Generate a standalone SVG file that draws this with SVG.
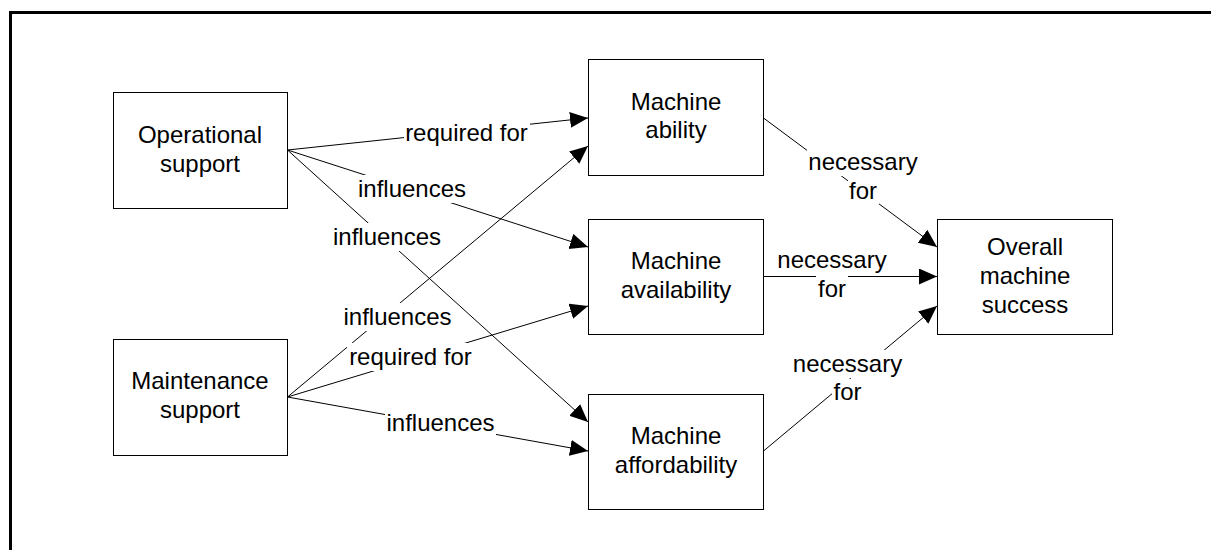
<svg xmlns="http://www.w3.org/2000/svg" width="1211" height="550" viewBox="0 0 1211 550">
  <style>
    .box { fill: #fff; stroke: #000; stroke-width: 1; }
    .txt { font-family: "Liberation Sans", Arial, sans-serif; font-size: 24px; fill: #000; text-anchor: middle; }
    .edge { fill: none; stroke: #000; stroke-width: 1; marker-end: url(#arrow); }
    .bg { fill: #fff; stroke: none; }
    .frame { fill: none; stroke: #000; stroke-width: 3; }
  </style>
  <defs>
    <marker id="arrow" markerUnits="userSpaceOnUse" markerWidth="19" markerHeight="17" refX="18" refY="8" orient="auto">
      <path d="M0,0 L18,8 L0,16 Z" fill="#000"/>
    </marker>
  </defs>

  <rect width="1211" height="550" fill="#fff"/>
  <!-- page frame (top and left edges) -->
  <path class="frame" d="M10.5,550 V12.5 H1211"/>

  <!-- connectors -->
  <g id="connectors">
    <line class="edge" x1="287.5" y1="150" x2="588" y2="118"/>
    <line class="edge" x1="287.5" y1="150" x2="588" y2="247"/>
    <line class="edge" x1="287.5" y1="150" x2="588" y2="422"/>
    <line class="edge" x1="287.5" y1="397" x2="588" y2="146"/>
    <line class="edge" x1="287.5" y1="397" x2="588" y2="306"/>
    <line class="edge" x1="287.5" y1="397" x2="588" y2="451"/>
    <line class="edge" x1="763.5" y1="118" x2="937" y2="247"/>
    <line class="edge" x1="763.5" y1="276.5" x2="937" y2="276.5"/>
    <line class="edge" x1="763.5" y1="451" x2="937" y2="306"/>

    <!-- edge labels -->
    <g id="lbl-op-ability">
      <rect class="bg" x="404" y="119" width="126" height="28"/>
      <text class="txt" x="466.5" y="141">required for</text>
    </g>
    <g id="lbl-op-avail">
      <rect class="bg" x="357" y="175" width="111" height="28"/>
      <text class="txt" x="412" y="197">influences</text>
    </g>
    <g id="lbl-op-afford">
      <rect class="bg" x="332" y="223" width="111" height="28"/>
      <text class="txt" x="387" y="245">influences</text>
    </g>
    <g id="lbl-mt-ability">
      <rect class="bg" x="342" y="303" width="111" height="28"/>
      <text class="txt" x="397.5" y="325">influences</text>
    </g>
    <g id="lbl-mt-avail">
      <rect class="bg" x="347" y="343" width="126" height="28"/>
      <text class="txt" x="410.5" y="365">required for</text>
    </g>
    <g id="lbl-mt-afford">
      <rect class="bg" x="385" y="409" width="111" height="28"/>
      <text class="txt" x="440.5" y="431">influences</text>
    </g>
    <g id="lbl-ability-overall">
      <rect class="bg" x="807" y="148" width="112" height="28"/>
      <rect class="bg" x="848" y="177" width="31" height="28"/>
      <text class="txt" x="863" y="170">necessary</text>
      <text class="txt" x="863" y="199">for</text>
    </g>
    <g id="lbl-avail-overall">
      <rect class="bg" x="776" y="246" width="112" height="28"/>
      <rect class="bg" x="816" y="275" width="32" height="28"/>
      <text class="txt" x="832" y="268">necessary</text>
      <text class="txt" x="832" y="297">for</text>
    </g>
    <g id="lbl-afford-overall">
      <rect class="bg" x="792" y="350" width="112" height="28"/>
      <rect class="bg" x="832" y="379" width="31" height="28"/>
      <text class="txt" x="847.5" y="372">necessary</text>
      <text class="txt" x="847.5" y="400">for</text>
    </g>
  </g>

  <!-- nodes -->
  <g id="operational-support">
    <rect class="box" x="113.5" y="92.5" width="174" height="116"/>
    <text class="txt" x="200" y="143">Operational</text>
    <text class="txt" x="200" y="172">support</text>
  </g>
  <g id="maintenance-support">
    <rect class="box" x="113.5" y="339.5" width="174" height="116"/>
    <text class="txt" x="200" y="389">Maintenance</text>
    <text class="txt" x="200" y="418">support</text>
  </g>
  <g id="machine-ability">
    <rect class="box" x="588.5" y="59.5" width="175" height="116"/>
    <text class="txt" x="676" y="110">Machine</text>
    <text class="txt" x="676" y="138">ability</text>
  </g>
  <g id="machine-availability">
    <rect class="box" x="588.5" y="219.5" width="175" height="115"/>
    <text class="txt" x="676" y="269">Machine</text>
    <text class="txt" x="676" y="298">availability</text>
  </g>
  <g id="machine-affordability">
    <rect class="box" x="588.5" y="394.5" width="175" height="115"/>
    <text class="txt" x="676" y="444">Machine</text>
    <text class="txt" x="676" y="473">affordability</text>
  </g>
  <g id="overall-machine-success">
    <rect class="box" x="937.5" y="219.5" width="175" height="115"/>
    <text class="txt" x="1025" y="255">Overall</text>
    <text class="txt" x="1025" y="284">machine</text>
    <text class="txt" x="1025" y="313">success</text>
  </g>
</svg>
